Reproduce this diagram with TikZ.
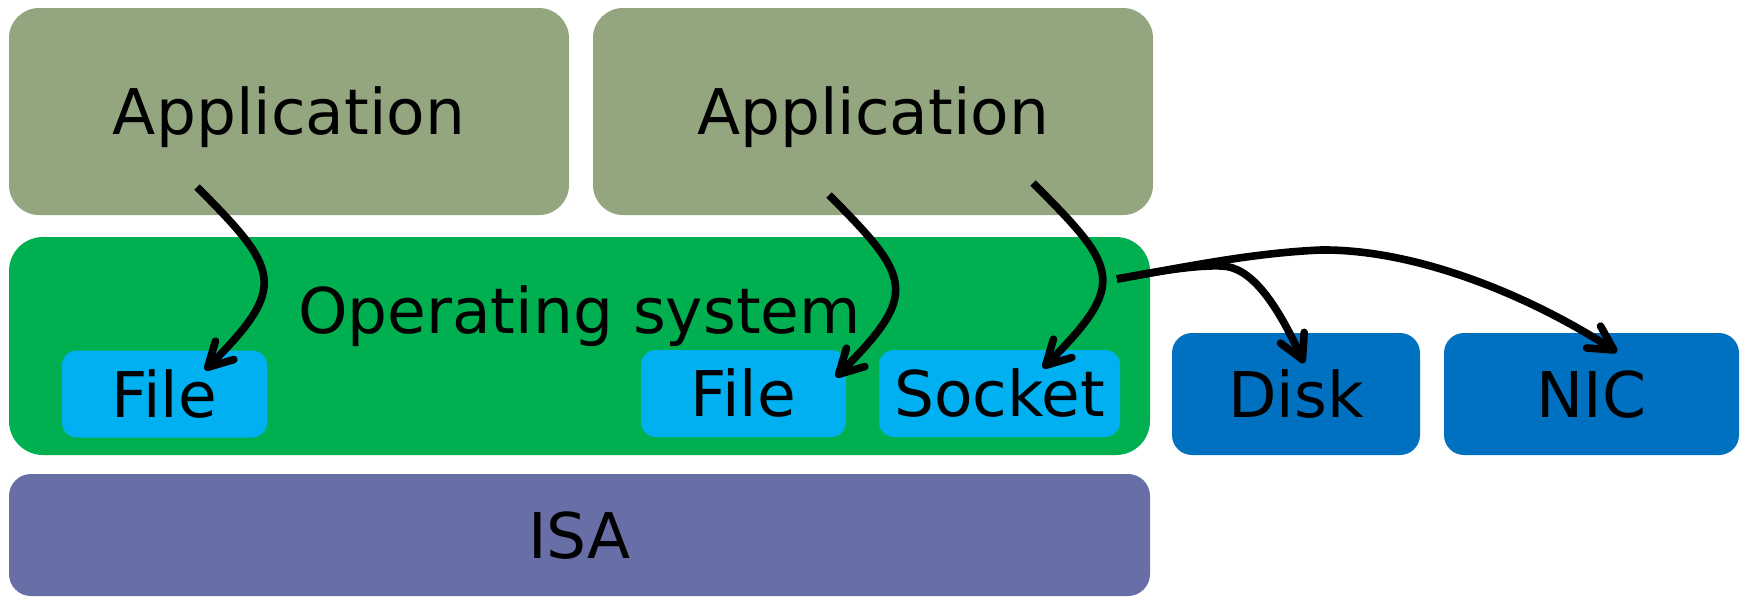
\documentclass[tikz,border=0pt]{standalone}
\usepackage{fontspec}
\setmainfont{DejaVu Sans}
\usetikzlibrary{arrows.meta}
\definecolor{appgreen}{RGB}{147,166,127}
\definecolor{osgreen}{RGB}{0,176,80}
\definecolor{objblue}{RGB}{0,176,240}
\definecolor{devblue}{RGB}{0,112,192}
\definecolor{isapurple}{RGB}{104,111,166}
\begin{document}
\begin{tikzpicture}[x=0.5pt,y=-0.5pt,
  box/.style={inner sep=0pt, outer sep=0pt, draw=none,
    font=\fontsize{31.5}{36}\selectfont, text height=23pt, text depth=0pt},
  appbox/.style={box, fill=appgreen, rounded corners=15pt,
    minimum width=280pt, minimum height=103.5pt},
  osbox/.style={box, fill=osgreen, rounded corners=17pt,
    minimum width=570.5pt, minimum height=109pt},
  objbox/.style={box, fill=objblue, rounded corners=7.5pt,
    minimum height=43.5pt},
  devbox/.style={box, fill=devblue, rounded corners=10pt,
    minimum height=61pt},
  isabox/.style={box, fill=isapurple, rounded corners=11pt,
    minimum width=570.5pt, minimum height=61pt},
  call/.style={draw=black, line width=3.8pt,
    -{Straight Barb[length=12pt,width=13pt,round]}}
]
\useasboundingbox (0,0) rectangle (1742,596);

% layers
\node[appbox] (app1) at (289,111.5) {Application};
\node[appbox] (app2) at (873,111.5) {Application};
\node[osbox] (os) at (579.5,346) {};
\node[box] (oslabel) at (579.5,310) {Operating system};
\node[objbox, minimum width=102.5pt] (file1) at (164.5,394) {File};
\node[objbox, minimum width=102.5pt] (file2) at (743.5,393.5) {File};
\node[objbox, minimum width=120.5pt] (socket) at (999.5,393.5) {Socket};
\node[devbox, minimum width=124pt] (disk) at (1296,394) {Disk};
\node[devbox, minimum width=147.5pt] (nic) at (1591.5,394) {NIC};
\node[isabox] (isa) at (579.5,535) {ISA};

% end points of the calls
\coordinate (app1-out) at (197,187);
\coordinate (file1-in) at (205,370);
\coordinate (app2-outa) at (829,195);
\coordinate (file2-in) at (836,377);
\coordinate (app2-outb) at (1033,183);
\coordinate (socket-in) at (1043,368);
\coordinate (os-out) at (1117,279);
\coordinate (disk-in) at (1304,363);
\coordinate (nic-in) at (1617,352);

% calls
\draw[call] (app1-out) .. controls (280,270) and (288,287) .. (file1-in);
\draw[call] (app2-outa) .. controls (912,278) and (919,294) .. (file2-in);
\draw[call] (app2-outb) .. controls (1118,268) and (1128,283) .. (socket-in);
\draw[call] (os-out) .. controls (1160,271) and (1195,265) .. (1222,266)
  .. controls (1250,267) and (1275,300) .. (disk-in);
\draw[call] (os-out) .. controls (1180,268) and (1250,253) .. (1321,250)
  .. controls (1410,249) and (1520,290) .. (nic-in);
\end{tikzpicture}
\end{document}
